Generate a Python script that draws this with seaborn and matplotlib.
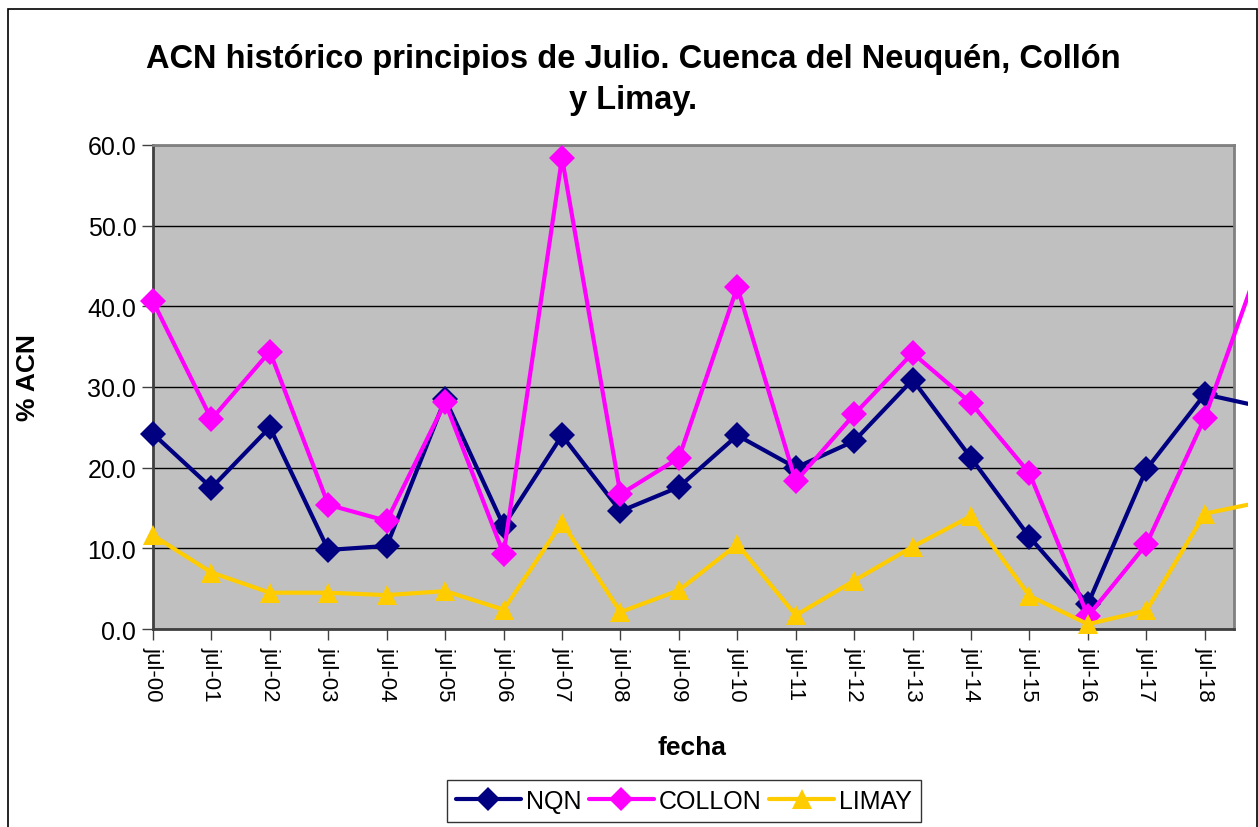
import matplotlib
matplotlib.use("Agg")
import matplotlib.pyplot as plt
import matplotlib.patches as mpatches
import numpy as np
import pandas as pd
import seaborn as sns

labels = ["jul-00", "jul-01", "jul-02", "jul-03", "jul-04", "jul-05", "jul-06", "jul-07",
          "jul-08", "jul-09", "jul-10", "jul-11", "jul-12", "jul-13", "jul-14", "jul-15",
          "jul-16", "jul-17", "jul-18", "jul-19"]
nqn = [24.2, 17.5, 25.0, 9.8, 10.3, 28.5, 12.8, 24.0, 14.6, 17.6, 24.0, 20.0, 23.3, 30.9,
       21.2, 11.4, 3.1, 19.8, 29.1, 27.5]
collon = [40.6, 26.0, 34.4, 15.4, 13.4, 28.1, 9.3, 58.4, 16.7, 21.2, 42.4, 18.3, 26.6, 34.2,
          28.0, 19.3, 1.6, 10.5, 26.2, 46.6]
limay = [11.6, 7.0, 4.5, 4.5, 4.2, 4.7, 2.4, 13.2, 2.1, 4.8, 10.5, 1.7, 6.0, 10.2,
         14.0, 4.1, 0.6, 2.3, 14.3, 15.8]
series = ["NQN", "COLLON", "LIMAY"]
colors = {"NQN": "#000080", "COLLON": "#FF00FF", "LIMAY": "#FFCC00"}
markers = {"NQN": "D", "COLLON": "D", "LIMAY": "^"}
msizes = {"NQN": 13, "COLLON": 13, "LIMAY": 15}

rows = []
for name, vals in zip(series, [nqn, collon, limay]):
    for i, v in enumerate(vals):
        rows.append({"idx": i, "fecha": labels[i], "val": v, "serie": name})
df = pd.DataFrame(rows)

sns.set_style("white")
plt.rcParams["font.family"] = ["Liberation Sans", "DejaVu Sans"]
plt.rcParams["text.color"] = "black"
plt.rcParams["axes.labelcolor"] = "black"
plt.rcParams["xtick.color"] = "black"
plt.rcParams["ytick.color"] = "black"

W, H = 1258, 828
fig = plt.figure(figsize=(W / 100, H / 100), dpi=100)
L, R, T, B = 153, 1234, 146, 630
ax = fig.add_axes([L / W, 1 - B / H, (R - L) / W, (B - T) / H])
ax.set_facecolor("#C0C0C0")

sns.lineplot(data=df, x="idx", y="val", hue="serie", style="serie", hue_order=series,
             style_order=series, palette=colors, markers=markers, dashes=False,
             linewidth=3, markersize=13, markeredgewidth=0, ax=ax, legend=False,
             zorder=3)
for ln, s in zip(ax.lines, series):
    ln.set_markersize(msizes[s])

ax.set_yticks(np.arange(0, 61, 10))
ax.set_yticklabels([f"{v:.1f}" for v in np.arange(0, 61, 10)], fontsize=18, color="black")
ax.set_xticks(range(len(labels)))
ax.set_xticklabels(labels, rotation=-90, fontsize=16, color="black")
ax.set_xlim(0, 18.5)
ax.set_ylim(0, 60)
ax.tick_params(axis="both", direction="out", length=8, width=1, color="#404040",
               labelcolor="black", bottom=True, left=True, pad=4)
ax.yaxis.grid(True, color="black", linewidth=1)
ax.set_axisbelow(True)
for s in ax.spines.values():
    s.set_color("#808080")
    s.set_linewidth(2)
ax.spines["left"].set_color("#404040")
ax.spines["bottom"].set_color("#404040")

# lines continue slightly beyond the plot area
clip = mpatches.Rectangle((-0.05, -0.05), (1248 - L) / (R - L) + 0.05, 1.1,
                          transform=ax.transAxes, visible=False)
ax.add_artist(clip)
for ln in ax.lines:
    ln.set_clip_path(clip)

ax.set_xlabel("fecha", fontsize=19, fontweight="bold", color="black")
ax.set_ylabel("% ACN", fontsize=19, fontweight="bold", color="black")
ax.xaxis.set_label_coords((692 - L) / (R - L), -(736 - B) / (B - T))
ax.yaxis.set_label_coords((40 - L) / (R - L), (B - 378) / (B - T))

fig.text(633 / W, 1 - 80 / H,
         "ACN histórico principios de Julio. Cuenca del Neuquén, Collón\ny Limay.",
         ha="center", va="center", fontsize=23.5, fontweight="bold", linespacing=1.45,
         color="black")

handles = [plt.Line2D([], [], color=colors[s], marker=markers[s], linewidth=3,
                      markersize=msizes[s] - 1, markeredgewidth=0) for s in series]
leg = fig.legend(handles, series, loc="center", bbox_to_anchor=(684 / W, 1 - 802 / H),
                 ncol=3, fontsize=18, frameon=True, fancybox=False, handlelength=2.6,
                 columnspacing=0.3, handletextpad=0.2, borderpad=0.35, labelcolor="black")
leg.get_frame().set_edgecolor("black")
leg.get_frame().set_linewidth(1)

border = mpatches.Rectangle((8 / W, -0.1), (1257 - 8) / W, 1 - 10 / H + 0.1,
                            transform=fig.transFigure, fill=False, edgecolor="black",
                            linewidth=1.2)
fig.patches.append(border)

fig.savefig("out.png", dpi=100, facecolor="white")
